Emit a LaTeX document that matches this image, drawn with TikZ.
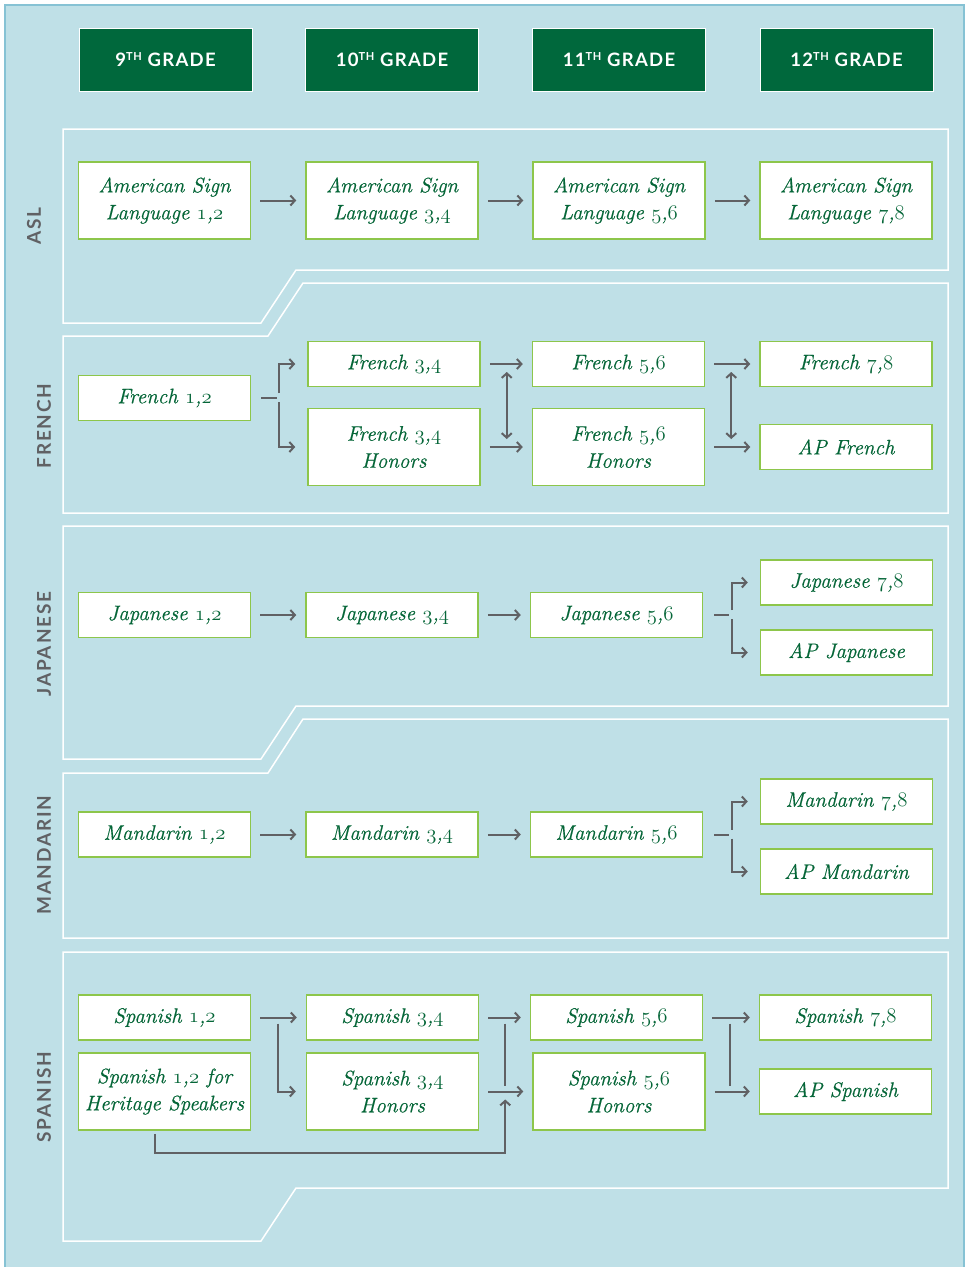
\documentclass[tikz,border=0pt]{standalone}
\usepackage{fontspec}
\usetikzlibrary{arrows.meta}
\newfontfamily\headfont[LetterSpace=7]{Lato}
\newfontfamily\sidefont[LetterSpace=10]{Lato}
\newfontfamily\coursefont[FakeBold=0.6]{Latin Modern Roman}
\newcommand{\osf}[1]{{\usefont{OML}{cmm}{m}{it}#1}}
\newcommand{\yrs}[2]{\osf{#1},\osf{#2}}
\newcommand{\gth}{\raisebox{5.2pt}{\fontsize{11}{11}\selectfont TH}}
\definecolor{bgblue}{RGB}{191,224,231}
\definecolor{rimblue}{RGB}{134,194,212}
\definecolor{headgreen}{RGB}{0,104,60}
\definecolor{boxgreen}{RGB}{141,198,75}
\definecolor{textgreen}{RGB}{5,102,56}
\definecolor{arrowgray}{RGB}{96,97,100}
\begin{document}
\begin{tikzpicture}[x=1pt,y=-1pt,
    >={Straight Barb[length=4.5pt,width=10pt]},
    grade/.style={fill=headgreen,draw=white,line width=1pt,minimum width=173pt,minimum height=63pt,text=white,font=\headfont\bfseries\fontsize{18.5}{18.5}\selectfont},
    course/.style={fill=white,draw=boxgreen,line width=1.5pt,minimum width=172pt,minimum height=45pt,inner sep=0pt,align=center,text=textgreen,font=\coursefont\itshape\fontsize{21}{27}\selectfont},
    tall/.style={course,minimum height=77pt},
    lang/.style={rotate=90,text=arrowgray,font=\sidefont\bfseries\fontsize{19}{19}\selectfont},
    panel/.style={draw=white,line width=1.5pt},
    link/.style={draw=arrowgray,line width=2pt},
    arr/.style={link,->}]
  \useasboundingbox (0,0) rectangle (968,1267);
  \fill[bgblue] (5,5) rectangle (964,1267);
  \draw[rimblue,line width=1.5pt] (5,1267) -- (5,5) -- (964,5) -- (964,1267);
  % panels
  \draw[panel] (63,129) -- (948,129) -- (948,270) -- (296,270) -- (261,323) -- (63,323) -- cycle;
  \draw[panel] (303,283) -- (948,283) -- (948,513) -- (63,513) -- (63,336) -- (268,336) -- cycle;
  \draw[panel] (63,526) -- (948,526) -- (948,706) -- (296,706) -- (261,759) -- (63,759) -- cycle;
  \draw[panel] (303,719) -- (948,719) -- (948,938) -- (63,938) -- (63,773) -- (268,773) -- cycle;
  \draw[panel] (63,952) -- (948,952) -- (948,1188) -- (296,1188) -- (261,1241) -- (63,1241) -- cycle;
  % grades
  \draw
    (165.5,59.5) node[grade] (g9){9\gth{} GRADE}
    (392,59.5) node[grade] (g10){10\gth{} GRADE}
    (619,59.5) node[grade] (g11){11\gth{} GRADE}
    (846.5,59.5) node[grade] (g12){12\gth{} GRADE};
  % languages
  \draw
    (34,226) node[lang] (asl){ASL}
    (44,426) node[lang] (french){FRENCH}
    (44,644) node[lang] (japanese){JAPANESE}
    (44,855) node[lang] (mandarin){MANDARIN}
    (44,1097) node[lang] (spanish){SPANISH};
  % courses
  \draw
    (164.5,200.5) node[tall] (asl1){American Sign\\Language \yrs{1}{2}}
    (392,200.5) node[tall] (asl2){American Sign\\Language \yrs{3}{4}}
    (619,200.5) node[tall] (asl3){American Sign\\Language \yrs{5}{6}}
    (846,200.5) node[tall] (asl4){American Sign\\Language \yrs{7}{8}};
  \draw
    (164.5,398) node[course] (fr1){French \yrs{1}{2}}
    (394,364) node[course] (fr3){French \yrs{3}{4}}
    (394,447) node[tall] (fr4){French \yrs{3}{4}\\Honors}
    (618.5,364) node[course] (fr5){French \yrs{5}{6}}
    (618.5,447) node[tall] (fr6){French \yrs{5}{6}\\Honors}
    (846,364) node[course] (fr7){French \yrs{7}{8}}
    (846,447) node[course] (fr8){AP French};
  \draw
    (164.5,615) node[course] (jp1){Japanese \yrs{1}{2}}
    (392,615) node[course] (jp3){Japanese \yrs{3}{4}}
    (616.5,615) node[course] (jp5){Japanese \yrs{5}{6}}
    (846.5,582.5) node[course] (jp7){Japanese \yrs{7}{8}}
    (846.5,652.5) node[course] (jp8){AP Japanese};
  \draw
    (164.5,834.5) node[course] (md1){Mandarin \yrs{1}{2}}
    (392,834.5) node[course] (md3){Mandarin \yrs{3}{4}}
    (616.5,834.5) node[course] (md5){Mandarin \yrs{5}{6}}
    (846.5,801.5) node[course] (md7){Mandarin \yrs{7}{8}}
    (846.5,871.5) node[course] (md8){AP Mandarin};
  \draw
    (164.5,1017.5) node[course] (sp1){Spanish \yrs{1}{2}}
    (164.5,1091.5) node[tall] (sp2){Spanish \yrs{1}{2} for\\Heritage Speakers}
    (392.5,1017.5) node[course] (sp3){Spanish \yrs{3}{4}}
    (392.5,1091.5) node[tall] (sp4){Spanish \yrs{3}{4}\\Honors}
    (616.5,1017.5) node[course] (sp5){Spanish \yrs{5}{6}}
    (619,1091.5) node[tall] (sp6){Spanish \yrs{5}{6}\\Honors}
    (845.5,1017.5) node[course] (sp7){Spanish \yrs{7}{8}}
    (845.5,1091.5) node[course] (sp8){AP Spanish};
  % connectors
  \begin{scope}[arr,shorten <=9pt,shorten >=9pt]
    \draw (asl1) to (asl2);
    \draw (asl2) to (asl3);
    \draw (asl3) to (asl4);
    \draw (fr3) to (fr5);
    \draw (fr4) to (fr6);
    \draw (fr5) to (fr7);
    \draw (fr6) to (fr8);
    \draw (jp1) to (jp3);
    \draw (jp3) to (jp5);
    \draw (md1) to (md3);
    \draw (md3) to (md5);
    \draw (sp1) to (sp3);
    \draw (sp3) to (sp5);
    \draw (sp4) to (sp6);
    \draw (sp5) to (sp7);
    \draw (sp6) to (sp8);
  \end{scope}
  \draw[link] ([xshift=10pt]fr1.east) -- ([xshift=26pt]fr1.east);
  \draw[arr] ([xshift=28pt,yshift=5pt]fr1.east) |- ([xshift=-12pt]fr3.west);
  \draw[arr] ([xshift=28pt,yshift=-4pt]fr1.east) |- ([xshift=-12pt]fr4.west);
  \draw[arr,<->] ([xshift=26pt,yshift=-8pt]fr3.east) -- ([xshift=26pt,yshift=8pt]fr4.east);
  \draw[arr,<->] ([xshift=26pt,yshift=-8pt]fr5.east) -- ([xshift=26pt,yshift=8pt]fr6.east);
  \draw[link] ([xshift=11pt]jp5.east) -- ([xshift=26pt]jp5.east);
  \draw[arr] ([xshift=29pt,yshift=5pt]jp5.east) |- ([xshift=-12pt]jp7.west);
  \draw[arr] ([xshift=29pt,yshift=-4pt]jp5.east) |- ([xshift=-12pt]jp8.west);
  \draw[link] ([xshift=11pt]md5.east) -- ([xshift=26pt]md5.east);
  \draw[arr] ([xshift=29pt,yshift=5pt]md5.east) |- ([xshift=-12pt]md7.west);
  \draw[arr] ([xshift=29pt,yshift=-4pt]md5.east) |- ([xshift=-12pt]md8.west);
  \draw[arr] ([xshift=27pt,yshift=-6pt]sp1.east) |- ([xshift=-10pt]sp4.west);
  \draw[link] ([xshift=26pt,yshift=-6pt]sp3.east) -- ([xshift=26pt,yshift=6pt]sp4.east);
  \draw[arr] ([xshift=-10pt,yshift=-3pt]sp2.south) -- ++(0,19) -| ([xshift=26pt,yshift=-8pt]sp4.east);
  \draw[link] ([xshift=27pt,yshift=-6pt]sp5.east) -- ([xshift=24.5pt,yshift=5.5pt]sp6.east);
\end{tikzpicture}
\end{document}
